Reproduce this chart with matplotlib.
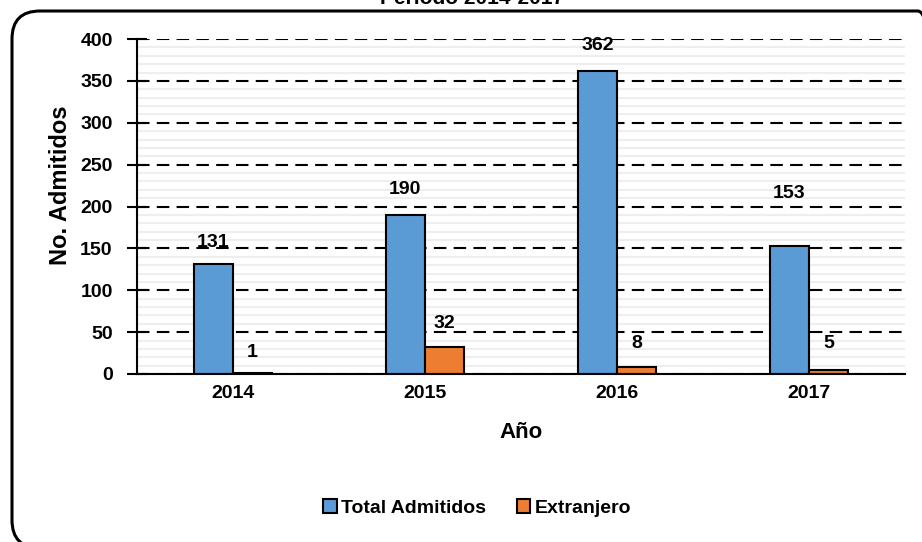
import matplotlib
matplotlib.use("Agg")
import matplotlib.pyplot as plt
from matplotlib.patches import FancyBboxPatch
from matplotlib.ticker import MultipleLocator
import numpy as np

years = ["2014", "2015", "2016", "2017"]
total_admitidos = [131, 190, 362, 153]
extranjero = [1, 32, 8, 5]
total_label_offsets = [16, 18, 18, 38]   # points above bar top
extr_label_offsets = [15, 17, 17, 19]

plt.rcParams['font.family'] = ['Liberation Sans', 'DejaVu Sans']
plt.rcParams['font.weight'] = 'bold'

fig = plt.figure(figsize=(9.22, 5.42), dpi=100)
W, H = 922, 542
ax = fig.add_axes([137 / W, 1 - 374 / H, (905 - 137) / W, (374 - 39) / H])

x = np.arange(len(years))
bw = 0.205
blue = "#5B9BD5"
orange = "#ED7D31"
b1 = ax.bar(x - bw / 2, total_admitidos, bw, color=blue, edgecolor="black", linewidth=1.5,
            label="Total Admitidos", zorder=3)
b2 = ax.bar(x + bw / 2, extranjero, bw, color=orange, edgecolor="black", linewidth=1.5,
            label="Extranjero", zorder=3)

fs = 14
for xi, v, off in zip(x - bw / 2, total_admitidos, total_label_offsets):
    ax.annotate(str(v), (xi, v), xytext=(0, off), textcoords="offset points",
                ha="center", va="center", fontsize=fs, fontweight="bold", zorder=4)
for xi, v, off in zip(x + bw / 2, extranjero, extr_label_offsets):
    ax.annotate(str(v), (xi, v), xytext=(0, off), textcoords="offset points",
                ha="center", va="center", fontsize=fs, fontweight="bold", zorder=4)

ax.set_xlim(-0.5, len(years) - 0.5)
ax.set_ylim(0, 400)
ax.yaxis.set_major_locator(MultipleLocator(50))
ax.yaxis.set_minor_locator(MultipleLocator(10))
ax.set_xticks(x)
ax.set_xticklabels(years, fontsize=fs, fontweight="bold")
ax.tick_params(axis="x", length=0, pad=8)
ax.tick_params(axis="y", which="major", direction="inout", length=15, width=1.5,
               labelsize=fs, pad=10)
ax.tick_params(axis="y", which="minor", length=0)
for lab in ax.get_yticklabels():
    lab.set_fontweight("bold")

ax.grid(axis="y", which="major", color="black", linestyle=(0, (6, 3.5)), linewidth=1.5, zorder=1)
ax.grid(axis="y", which="minor", color="#eeeeee", linestyle="-", linewidth=1.5, zorder=0)
ax.set_axisbelow(True)

for s in ["top", "right"]:
    ax.spines[s].set_visible(False)
ax.spines["left"].set_linewidth(1.5)
ax.spines["bottom"].set_linewidth(1.5)
ax.spines["left"].set_zorder(5)
ax.spines["bottom"].set_zorder(5)

ax.set_ylabel("No. Admitidos", fontsize=17, fontweight="bold")
ax.yaxis.set_label_coords((72 - 137) / 768, (374 - 185) / 335)
ax.set_xlabel("Año", fontsize=16, fontweight="bold", labelpad=14)

leg = fig.legend(handles=[b1, b2], loc="center", bbox_to_anchor=(477 / W, 1 - 508 / H),
                 ncol=2, frameon=False, handlelength=0.7, handleheight=0.7,
                 handletextpad=0.2, columnspacing=1.6, prop={"weight": "bold", "size": 14})

fig.text(472 / W, 1 - 4 / H, "Periodo 2014-2017", ha="center", va="baseline",
         fontsize=15, fontweight="bold")

r = 28
border = FancyBboxPatch((12 / W, -6 / H), (946 - 12) / W, (H - 11 + 6) / H,
                        boxstyle="round,pad=0,rounding_size=%f" % (r / W),
                        transform=fig.transFigure, fill=False, edgecolor="black",
                        linewidth=2.2, mutation_aspect=W / H, clip_on=False)
fig.patches.append(border)

fig.savefig("out.png", dpi=100)
